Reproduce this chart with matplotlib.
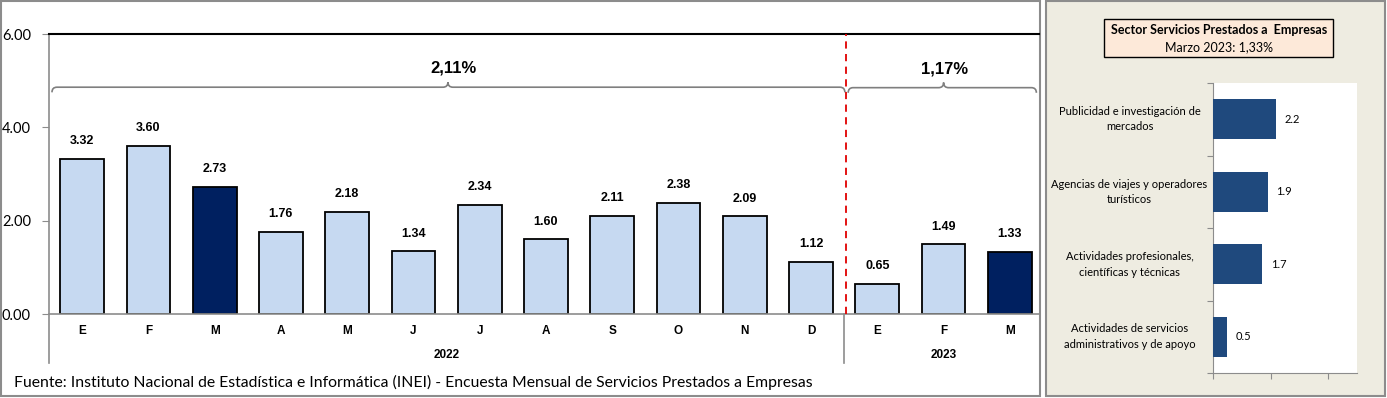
import matplotlib
matplotlib.use("Agg")
import matplotlib.pyplot as plt
from matplotlib.patches import Rectangle, PathPatch
from matplotlib.path import Path
import matplotlib.transforms as mtransforms

# ---- data ----
months = ["E", "F", "M", "A", "M", "J", "J", "A", "S", "O", "N", "D", "E", "F", "M"]
values = [3.32, 3.60, 2.73, 1.76, 2.18, 1.34, 2.34, 1.60, 2.11, 2.38, 2.09, 1.12, 0.65, 1.49, 1.33]
highlight = [2, 14]
years = ["2022", "2023"]
year_counts = [12, 3]
period_labels = ["2,11%", "1,17%"]
yticks = [0.0, 2.0, 4.0, 6.0]

sub_categories = ["Publicidad e investigación de\nmercados",
                  "Agencias de viajes y operadores\nturísticos",
                  "Actividades profesionales,\ncientíficas y técnicas",
                  "Actividades de servicios\nadministrativos y de apoyo"]
sub_values = [2.2, 1.9, 1.7, 0.5]
box_title = "Sector Servicios Prestados a  Empresas"
box_sub = "Marzo 2023: 1,33%"
source = "Fuente: Instituto Nacional de Estadística e Informática (INEI) - Encuesta Mensual de Servicios Prestados a Empresas"

W, H = 1387, 398
fig = plt.figure(figsize=(W / 100, H / 100), dpi=100)
fig.patch.set_facecolor("white")

def fx(px):
    return px / W

def fy(py):
    return 1 - py / H

narrow = ["Liberation Sans Narrow", "Liberation Sans", "DejaVu Sans"]
calib = ["Lato", "DejaVu Sans"]

# frames
fig.patches.append(Rectangle((fx(1), fy(396)), fx(1039), 395 / H, transform=fig.transFigure,
                             fill=False, edgecolor="#8C8C8C", linewidth=1.5, zorder=-2))
fig.patches.append(Rectangle((fx(1046), fy(396)), fx(339), 395 / H, transform=fig.transFigure,
                             facecolor="#EEECE1", edgecolor="#8C8C8C", linewidth=1.5, zorder=-2))

# ---- main axes ----
ax = fig.add_axes([fx(49), fy(314), fx(994), 280 / H])
ax.set_zorder(2)
ax.set_facecolor("none")
x = list(range(len(values)))
colors = ["#002060" if i in highlight else "#C6D9F1" for i in x]
ax.bar(x, values, width=0.66, color=colors, edgecolor="black", linewidth=1.3, zorder=3)
ax.set_xlim(-0.5, len(values) - 0.5)
ax.set_ylim(0, 6)
ax.set_yticks(yticks)
ax.set_yticklabels([f"{v:.2f}" for v in yticks], fontfamily=calib, fontsize=10.5)
ax.tick_params(axis="y", length=5, color="#8C8C8C", pad=8)
ax.set_xticks([])
for s in ["right", "bottom"]:
    ax.spines[s].set_visible(False)
ax.spines["left"].set_color("#8C8C8C")
ax.spines["left"].set_linewidth(1.2)
ax.spines["left"].set_bounds(-1.05, 6)
ax.spines["top"].set_color("black")
ax.spines["top"].set_linewidth(1.5)
ax.spines["top"].set_bounds(-0.5, 14.44)
ax.plot([-0.5, 14.44], [0, 0], color="#8C8C8C", linewidth=1.2, zorder=4, clip_on=False)

for xi, v in zip(x, values):
    ax.annotate(f"{v:.2f}", (xi, v), xytext=(0, 8.5), textcoords="offset points",
                ha="center", va="bottom", fontsize=9, fontweight="bold", fontfamily=narrow)

trans = mtransforms.blended_transform_factory(ax.transData, ax.transAxes)
for xi, m in zip(x, months):
    ax.text(xi, -0.06, m, transform=trans, ha="center", va="center",
            fontsize=8.5, fontweight="bold", fontfamily=narrow)

start = 0
for yl, c in zip(years, year_counts):
    ax.text(start + (c - 1) / 2, -0.146, yl, transform=trans, ha="center", va="center",
            fontsize=8.5, fontweight="bold", fontfamily=narrow)
    start += c
ax.plot([11.5, 11.5], [0, -0.175], transform=trans, color="#8C8C8C", linewidth=1.2, clip_on=False)
ax.plot([11.53, 11.53], [0, 1], transform=trans, color="#E00000", linewidth=1.3,
        linestyle=(0, (4, 3)), clip_on=False, zorder=5)


def bracket(x0, x1, xc, y, dx=0.075, dy=0.11):
    verts = [(x0, y - dy), (x0, y), (x0 + dx, y),
             (xc - dx, y), (xc, y), (xc, y + dy),
             (xc, y), (xc + dx, y),
             (x1 - dx, y), (x1, y), (x1, y - dy)]
    codes = [Path.MOVETO, Path.CURVE3, Path.CURVE3,
             Path.LINETO, Path.CURVE3, Path.CURVE3,
             Path.CURVE3, Path.CURVE3,
             Path.LINETO, Path.CURVE3, Path.CURVE3]
    ax.add_patch(PathPatch(Path(verts, codes), fill=False, edgecolor="#7F7F7F",
                           linewidth=1.2, clip_on=False))

bracket(-0.455, 11.51, 5.52, 4.86)
bracket(11.56, 14.4, 13.0, 4.85)
ax.text(5.6, 5.28, period_labels[0], ha="center", va="center", fontsize=12,
        fontweight="bold", fontfamily=narrow)
ax.text(13.02, 5.24, period_labels[1], ha="center", va="center", fontsize=12,
        fontweight="bold", fontfamily=narrow)

fig.text(fx(14), fy(382), source, ha="left", va="center", fontsize=11.3, fontfamily=calib)

# ---- right panel ----
fig.patches.append(Rectangle((fx(1104), fy(57)), fx(229), 38 / H, transform=fig.transFigure,
                             facecolor="#FDE9D9", edgecolor="black", linewidth=1.0, zorder=1))
fig.text(fx(1219), fy(30), box_title, ha="center", va="center", fontsize=9,
         fontweight="bold", fontfamily=calib, zorder=3)
fig.text(fx(1219), fy(47), box_sub, ha="center", va="center", fontsize=9, fontfamily=calib,
         zorder=3)

ax2 = fig.add_axes([fx(1213), fy(373), fx(144), 290 / H])
ax2.set_zorder(2)
ax2.set_facecolor("white")
yy = list(range(len(sub_values)))[::-1]
ax2.barh(yy, sub_values, height=0.55, color="#1F497D", zorder=3)
ax2.set_xlim(0, 5)
ax2.set_ylim(-0.5, len(sub_values) - 0.5)
ax2.set_xticks([0, 2, 4])
ax2.set_xticklabels([])
ax2.set_yticks([i - 0.5 for i in range(len(sub_values) + 1)])
ax2.set_yticklabels([])
ax2.tick_params(axis="both", length=4, color="#8C8C8C")
for s in ["top", "right"]:
    ax2.spines[s].set_visible(False)
for s in ["left", "bottom"]:
    ax2.spines[s].set_color("#8C8C8C")
for yi, v, lab in zip(yy, sub_values, sub_categories):
    ax2.text(v + 0.3, yi, f"{v}", ha="left", va="center", fontsize=8, fontfamily=calib)
    ax2.text(-2.9, yi, lab, ha="center", va="center", fontsize=8, fontfamily=calib,
             linespacing=1.5)

fig.savefig("out.png", dpi=100)
